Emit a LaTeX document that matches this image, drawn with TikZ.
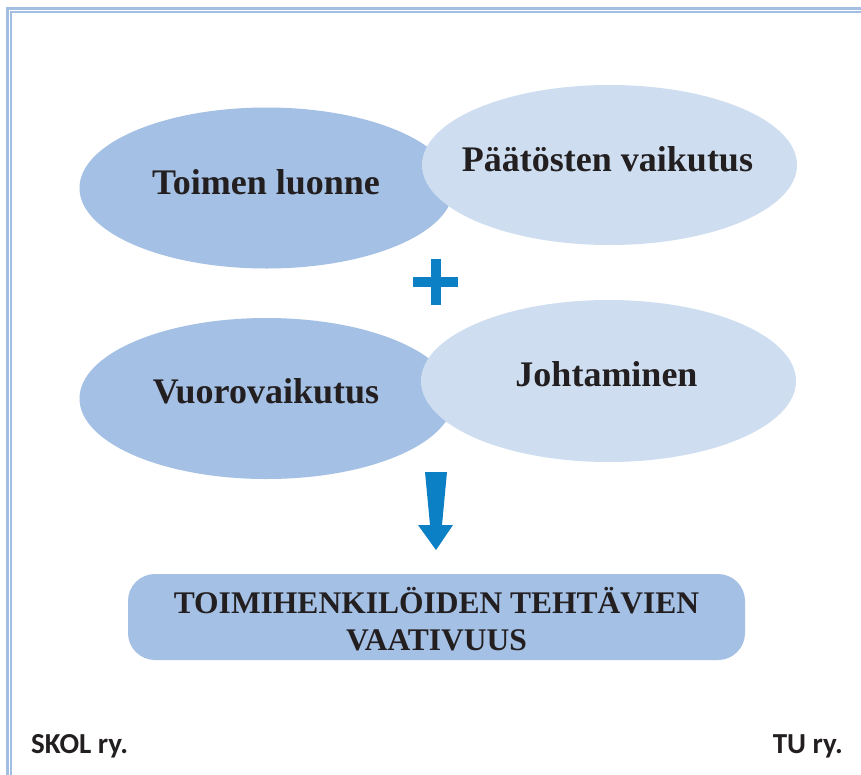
\documentclass[tikz,border=0pt]{standalone}
\usepackage{fontspec}
\setmainfont{Liberation Serif}
\newfontfamily\footfont{Carlito}
\usetikzlibrary{shapes.geometric}
\definecolor{darkfill}{HTML}{A4C0E4}
\definecolor{lightfill}{HTML}{CEDEF0}
\definecolor{framecol}{HTML}{A3BEE3}
\definecolor{accent}{HTML}{0B80C5}
\definecolor{inktext}{HTML}{231F20}
\tikzset{
  blob/.style={ellipse, draw=none, inner sep=0pt, minimum width=374pt, minimum height=161pt},
  blobtext/.style={anchor=base, inner sep=0pt, text=inktext, font=\fontsize{36}{40}\selectfont\bfseries},
  resultbox/.style={rectangle, rounded corners=27pt, fill=darkfill, minimum width=617pt, minimum height=86pt, inner sep=0pt},
  resulttext/.style={align=center, inner sep=0pt, text=inktext, font=\fontsize{31.5}{37}\selectfont\bfseries},
  foottext/.style={anchor=base, inner sep=0pt, text=inktext, font=\footfont\fontsize{29}{32}\selectfont\bfseries},
}
\begin{document}
\begin{tikzpicture}[x=1pt,y=-1pt]
\useasboundingbox (0,0) rectangle (861,774);
\fill[white] (0,0) rectangle (861,774);
% frame
\draw[framecol, line width=2.6pt] (7.3,790) -- (7.3,8.3) -- (880,8.3);
\draw[framecol, line width=1.4pt] (10.9,790) -- (10.9,11.9) -- (880,11.9);
% ellipses
\node[blob, fill=darkfill] (e1) at (266.5,188) {};
\node[blob, fill=lightfill, minimum width=375pt, minimum height=160pt] (e2) at (609.5,165) {};
\node[blob, fill=darkfill] (e3) at (266.5,398.5) {};
\node[blob, fill=lightfill, minimum width=375pt, minimum height=162pt] (e4) at (608.5,381) {};
\node[blobtext] (t1) at (266,194) {Toimen luonne};
\node[blobtext] (t2) at (607.5,171) {Päätösten vaikutus};
\node[blobtext] (t3) at (266,403) {Vuorovaikutus};
\node[blobtext] (t4) at (606.5,386) {Johtaminen};
% plus sign
\fill[accent] (413,277) rectangle (458,287);
\fill[accent] (431,259) rectangle (441,305);
% arrow
\coordinate (atip) at (436,550);
\fill[accent] (425,472) -- (447,472) -- (442,525) -- (453,525) -- (atip) -- (418,525) -- (430,525) -- cycle;
% result box
\node[resultbox] (res) at (436.5,617) {};
\node[resulttext] (rt) at (436.5,619) {TOIMIHENKILÖIDEN TEHTÄVIEN\\VAATIVUUS};
% footer
\node[foottext, anchor=base west] (skol) at (31,753) {SKOL ry.};
\node[foottext, anchor=base east] (tu) at (843,753) {TU ry.};
\end{tikzpicture}
\end{document}
